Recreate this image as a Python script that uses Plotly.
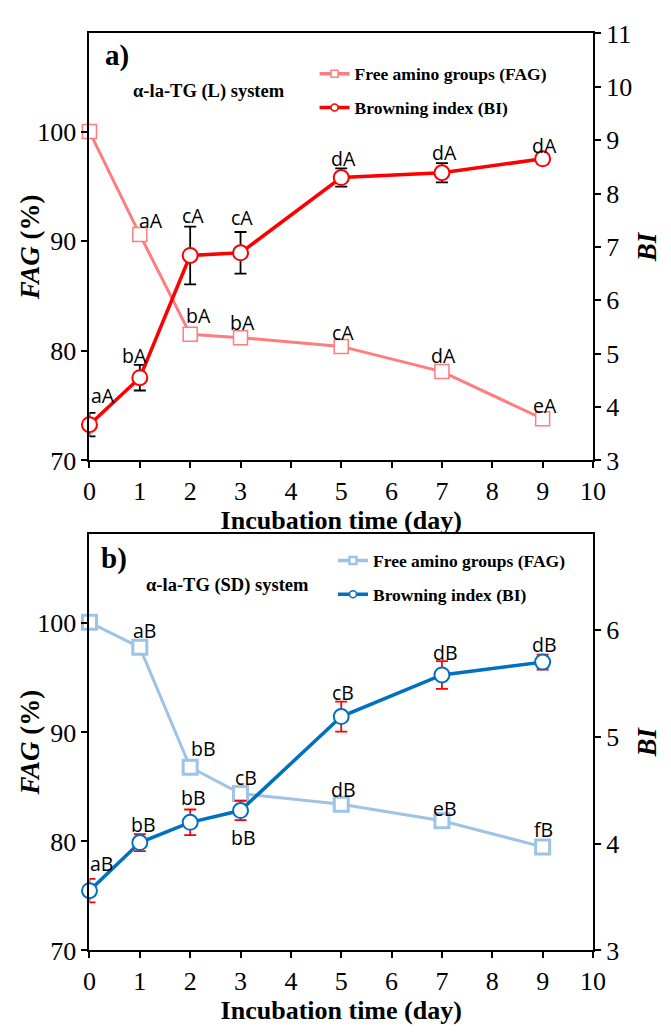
import plotly.graph_objects as go

# ---- data ----
days = [0, 1, 2, 3, 5, 7, 9]

# alpha-la-TG (L) system
fag_L = [100.0, 90.6, 81.5, 81.2, 80.4, 78.1, 73.8]
fag_L_err = [0.3, 0.3, 0.3, 0.2, 0.3, 0.3, 0.2]
bi_L = [3.67, 4.55, 6.84, 6.89, 8.30, 8.39, 8.65]
bi_L_err = [0.22, 0.24, 0.54, 0.39, 0.17, 0.18, 0.09]
fag_L_labels = ["", "aA", "bA", "bA", "cA", "dA", "eA"]
bi_L_labels = ["aA", "bA", "cA", "cA", "dA", "dA", "dA"]

# alpha-la-TG (SD) system
fag_SD = [100.1, 97.8, 86.8, 84.4, 83.4, 81.9, 79.5]
fag_SD_err = [0.2, 0.3, 0.2, 0.3, 0.3, 0.2, 0.2]
bi_SD = [3.56, 4.01, 4.20, 4.31, 5.19, 5.58, 5.70]
bi_SD_err = [0.11, 0.08, 0.12, 0.09, 0.14, 0.13, 0.07]
fag_SD_labels = ["", "aB", "bB", "cB", "dB", "eB", "fB"]
bi_SD_labels = ["aB", "bB", "bB", "bB", "cB", "dB", "dB"]

x_ticks = list(range(0, 11))
fag_ticks = [70, 80, 90, 100]
bi_L_ticks = list(range(3, 12))
bi_SD_ticks = [3, 4, 5, 6]

# ---- label placement (pixel offsets from each point) ----
fag_L_off = [(0, 0), (11, 14), (8, 19), (2, 15), (2, 14), (2, 16), (2, 13)]
bi_L_off = [(14, 29), (-5, 22), (3, 40), (1, 35), (2, 19), (3, 20), (2, 13)]
fag_SD_off = [(0, 0), (5, 17), (13, 19), (5, 16), (2, 15), (3, 12), (1, 17)]
bi_SD_off = [(12, 27), (4, 18), (3, 25), (3, -27), (2, 24), (4, 22), (2, 18)]

W, H = 671, 1033
SERIF = "Liberation Serif"
SANS = "Open Sans"

C_FAG_L, C_BI_L = "#FF7C80", "#FF0000"
C_FAG_SD, C_BI_SD = "#9DC3E6", "#0070C0"

fig = go.Figure()


def add_series(y, err, color, symbol, msize, mline, lwidth, ecolor, xa, ya):
    fig.add_trace(go.Scatter(
        x=days, y=y, mode="lines+markers", showlegend=False,
        line=dict(color=color, width=lwidth),
        marker=dict(symbol=symbol, size=msize, color="white",
                    line=dict(color=color, width=mline)),
        error_y=dict(type="data", array=err, visible=True, color=ecolor,
                     thickness=1.8, width=6),
        xaxis=xa, yaxis=ya, cliponaxis=False,
    ))


def add_legend_entry(name, color, symbol, mline, lwidth, legend):
    fig.add_trace(go.Scatter(
        x=[None], y=[None], mode="lines+markers", name="<b>" + name + "</b>",
        legend=legend, legendgroup=legend + name,
        line=dict(color=color, width=lwidth),
        marker=dict(symbol=symbol, size=7, color="white",
                    line=dict(color=color, width=mline)),
        xaxis="x", yaxis="y",
    ))


# panel a
add_series(fag_L, fag_L_err, C_FAG_L, "square", 14, 1.5, 3, "black", "x", "y")
add_series(bi_L, bi_L_err, C_BI_L, "circle", 15, 2, 3.5, "black", "x", "y2")
# panel b
add_series(fag_SD, fag_SD_err, C_FAG_SD, "square", 14, 3, 3, "#FF0000", "x2", "y3")
add_series(bi_SD, bi_SD_err, C_BI_SD, "circle", 15, 2, 3.5, "#FF0000", "x2", "y4")

add_legend_entry("Free amino groups (FAG)", C_FAG_L, "square", 1.5, 3.5, "legend")
add_legend_entry("Browning index (BI)", C_BI_L, "circle", 1.5, 3.5, "legend")
add_legend_entry("Free amino groups (FAG)", C_FAG_SD, "square", 2.5, 3.5, "legend2")
add_legend_entry("Browning index (BI)", C_BI_SD, "circle", 1.5, 3.5, "legend2")

annotations = []


def add_labels(vals, labels, offs, xref, yref):
    for d, v, t, (dx, dy) in zip(days, vals, labels, offs):
        if not t:
            continue
        annotations.append(dict(
            x=d, y=v, xref=xref, yref=yref, text=t, showarrow=False,
            xshift=dx, yshift=dy, font=dict(family=SANS, size=19.5, color="black"),
        ))


add_labels(fag_L, fag_L_labels, fag_L_off, "x", "y")
add_labels(bi_L, bi_L_labels, bi_L_off, "x", "y2")
add_labels(fag_SD, fag_SD_labels, fag_SD_off, "x2", "y3")
add_labels(bi_SD, bi_SD_labels, bi_SD_off, "x2", "y4")


def px_x(p):
    return p / W


def px_y(p):
    return 1 - p / H


for txt, xp, yp, size in [
    ("<b>a)</b>", 99, 43, 29),
    ("<b>α-la-TG (L) system</b>", 128, 80, 18.5),
    ("<b>b)</b>", 95, 560, 29),
    ("<b>α-la-TG (SD) system</b>", 141, 588, 18.5),
]:
    annotations.append(dict(
        x=px_x(xp), y=px_y(yp), xref="paper", yref="paper", text=txt,
        showarrow=False, xanchor="left", yanchor="middle",
        font=dict(family=SERIF, size=size, color="black"),
    ))

xdom = [px_x(85), px_x(604)]
dom_top = [px_y(459.3), px_y(20)]
dom_bot = [px_y(963.5), px_y(535)]

ytitlefont = dict(family=SERIF, size=27, color="black")

# vertical axis titles, centred on each panel
for txt, xp, dom in [
    ("<b><i>FAG</i> (%)</b>", 24, dom_top),
    ("<b><i>BI</i></b>", 660, dom_top),
    ("<b><i>FAG</i> (%)</b>", 24, dom_bot),
    ("<b><i>BI</i></b>", 660, dom_bot),
]:
    annotations.append(dict(
        x=px_x(xp), y=(dom[0] + dom[1]) / 2, xref="paper", yref="paper",
        text=txt, showarrow=False, textangle=-90, xanchor="center",
        yanchor="middle", font=ytitlefont,
    ))

tickfont = dict(family=SERIF, size=26, color="black")
xtitlefont = dict(family=SERIF, size=26, color="black")

xcommon = dict(
    range=[0, 10], tickvals=x_ticks, showline=True, linecolor="black",
    linewidth=2, mirror=True, ticks="outside", ticklen=6, tickwidth=1.5,
    tickcolor="black", showgrid=False, zeroline=False, tickfont=tickfont,
    domain=xdom, title=dict(text="<b>Incubation time (day)</b>", font=xtitlefont,
                            standoff=0),
)
ycommon = dict(
    showline=True, linecolor="black", linewidth=2, ticks="outside", ticklen=6,
    tickwidth=1.5, tickcolor="black", showgrid=False, zeroline=False,
    tickfont=tickfont,
)

legend_common = dict(
    font=dict(family=SERIF, size=17.5, color="black"), bgcolor="rgba(0,0,0,0)",
    xanchor="left", yanchor="top", tracegroupgap=8,
)

fig.update_layout(
    width=W, height=H, margin=dict(l=0, r=0, t=0, b=0),
    paper_bgcolor="white", plot_bgcolor="white",
    xaxis=dict(anchor="y", **xcommon),
    yaxis=dict(domain=dom_top, range=[70, 108.95], tickvals=fag_ticks, **ycommon),
    yaxis2=dict(overlaying="y", side="right", anchor="x", range=[3, 11],
                tickvals=bi_L_ticks, **ycommon),
    xaxis2=dict(anchor="y3", **xcommon),
    yaxis3=dict(domain=dom_bot, anchor="x2", range=[70, 108.2], tickvals=fag_ticks,
                **ycommon),
    yaxis4=dict(overlaying="y3", side="right", anchor="x2", range=[3, 6.9],
                tickvals=bi_SD_ticks, **ycommon),
    legend=dict(x=px_x(317), y=px_y(43), **legend_common),
    legend2=dict(x=px_x(336), y=px_y(544), **legend_common),
    annotations=annotations,
)

fig.write_html("out.html")
